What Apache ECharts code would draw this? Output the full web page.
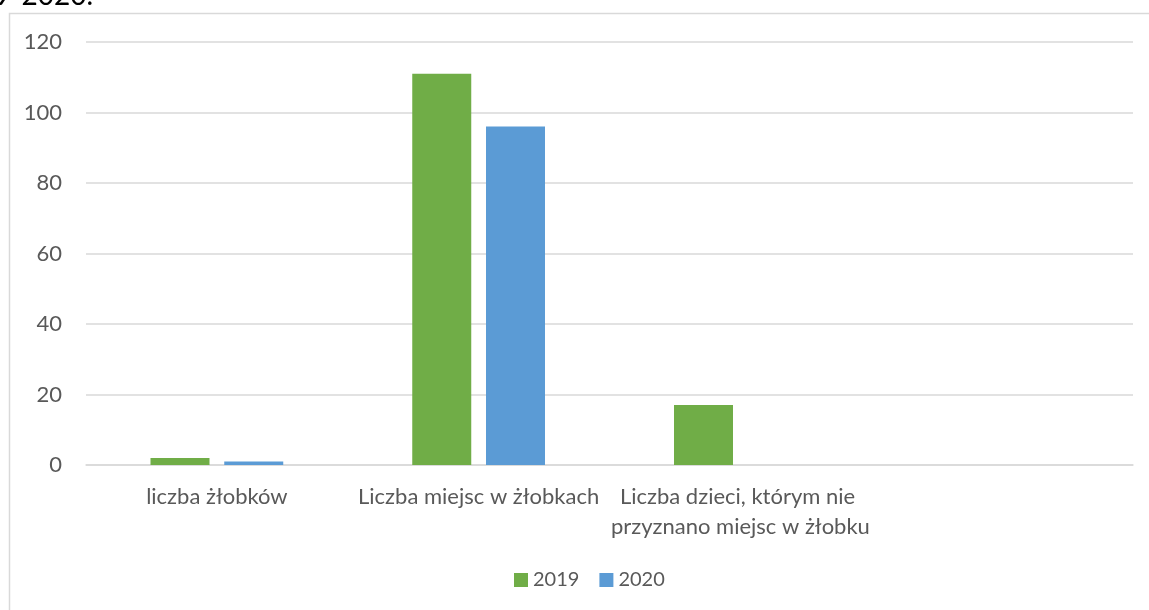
<!DOCTYPE html>
<html>
<head>
<meta charset="utf-8">
<script src="https://cdn.jsdelivr.net/npm/echarts@6/dist/echarts.min.js"></script>
<style>
  html, body { margin: 0; padding: 0; background: #fff; }
  #main { width: 1149px; height: 610px; }
</style>
</head>
<body>
<div id="main"></div>
<script>
var categories = ["liczba żłobków", "Liczba miejsc w żłobkach", "Liczba dzieci, którym nie przyznano miejsc w żłobku", ""];
var seriesNames = ["2019", "2020"];
var values2019 = [2, 111, 17, null];
var values2020 = [1, 96, 0, null];
var yTicks = { min: 0, max: 120, interval: 20 };

var font = "Lato, 'Open Sans', sans-serif";
var myChart = echarts.init(document.getElementById("main"));

var option = {
  backgroundColor: "#ffffff",
  animation: false,
  color: ["#70AD47", "#5B9BD5"],
  textStyle: { fontFamily: font },
  graphic: [
    {
      // ramka wykresu (ucięta z prawej i z dołu)
      type: "rect",
      shape: { x: 9.5, y: 13.5, width: 1300, height: 800 },
      style: { fill: "none", stroke: "#D9D9D9", lineWidth: 1.5 },
      silent: true
    },
    {
      // podpis nad wykresem, prawie cały ucięty
      type: "text",
      x: 93,
      y: -4,
      style: {
        text: "w latach 2019-2020.",
        fill: "#000000",
        font: "28px " + font,
        textAlign: "right",
        textVerticalAlign: "middle"
      },
      silent: true
    }
  ],
  grid: {
    left: 86,
    right: 16,
    top: 42,
    bottom: 145,
    containLabel: false,
    outerBoundsMode: "none"
  },
  legend: {
    data: seriesNames,
    left: 509,
    top: 565,
    itemWidth: 14,
    itemHeight: 14,
    itemGap: 20,
    icon: "rect",
    textStyle: { color: "#595959", fontSize: 20, fontFamily: font }
  },
  xAxis: {
    type: "category",
    data: categories,
    axisLine: { show: true, lineStyle: { color: "#D9D9D9", width: 1.5 } },
    axisTick: { show: false },
    axisLabel: {
      color: "#595959",
      fontSize: 22,
      fontFamily: font,
      lineHeight: 30,
      margin: 17,
      interval: 0,
      width: 300,
      overflow: "break"
    }
  },
  yAxis: {
    type: "value",
    min: yTicks.min,
    max: yTicks.max,
    interval: yTicks.interval,
    axisLine: { show: false },
    axisTick: { show: false },
    splitLine: { lineStyle: { color: "#D9D9D9", width: 1.5 } },
    axisLabel: {
      color: "#595959",
      fontSize: 22,
      fontFamily: font,
      margin: 24
    }
  },
  series: [
    {
      name: seriesNames[0],
      type: "bar",
      barWidth: 59,
      barGap: "25%",
      data: values2019
    },
    {
      name: seriesNames[1],
      type: "bar",
      barWidth: 59,
      barGap: "25%",
      data: values2020
    }
  ]
};

myChart.setOption(option);
</script>
</body>
</html>
